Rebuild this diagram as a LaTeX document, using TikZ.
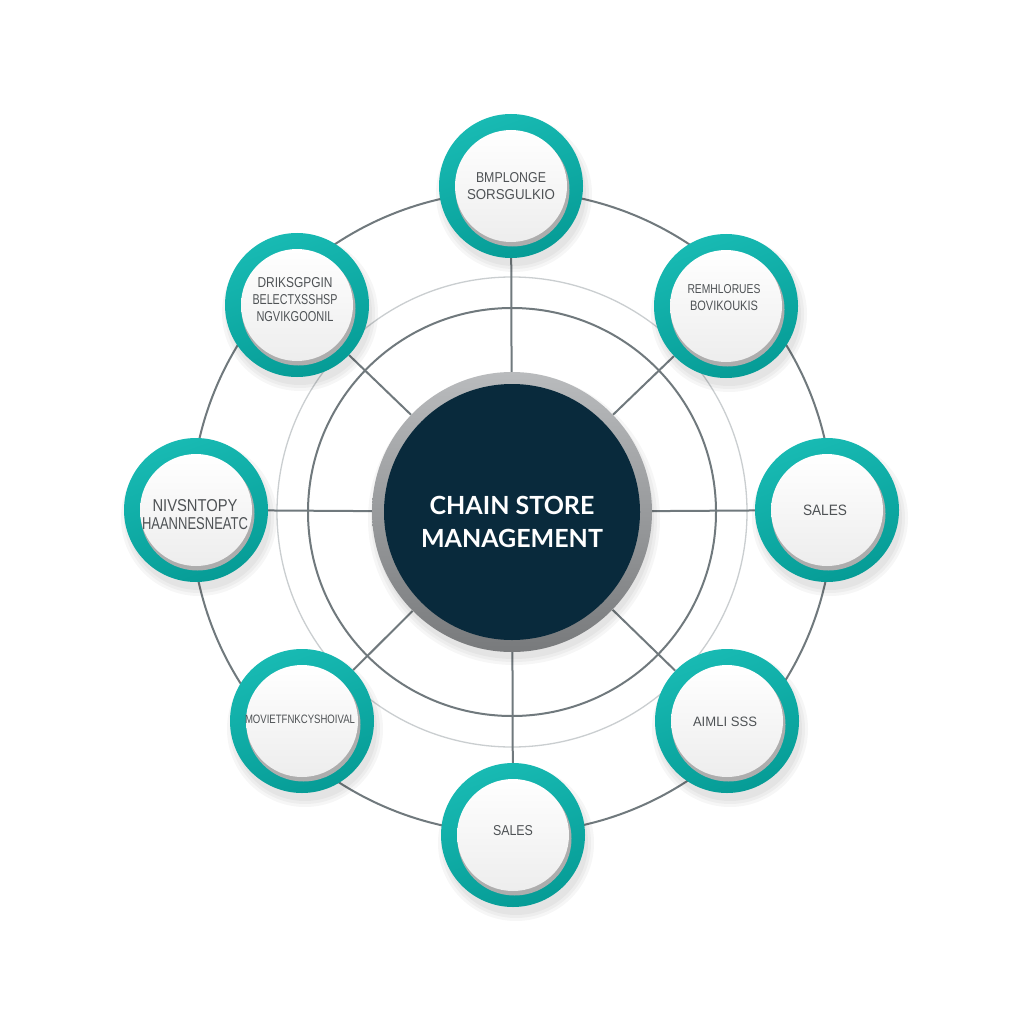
\documentclass[tikz,border=0pt]{standalone}
\usepackage{fontspec}
\setmainfont{Liberation Sans}
\newfontfamily\titlefont{Lato}
\usetikzlibrary{backgrounds}
\definecolor{navy}{RGB}{9,42,60}
\definecolor{tealA}{RGB}{24,186,179}
\definecolor{tealB}{RGB}{6,156,150}
\definecolor{linegrey}{RGB}{112,121,125}
\definecolor{lightring}{RGB}{202,206,208}
\definecolor{txtgrey}{RGB}{78,82,85}
\definecolor{ringA}{RGB}{185,187,189}
\definecolor{ringB}{RGB}{120,122,124}
\newcommand\fitline[3]{\resizebox{#1pt}{#2pt}{#3}}
\tikzset{
  satring/.style={circle, minimum size=144pt, inner sep=0pt, top color=tealA, bottom color=tealB, shading angle=20},
  satface/.style={circle, minimum size=112pt, inner sep=0pt, top color=white, bottom color=black!7},
  sattext/.style={align=center, text=txtgrey, inner sep=0pt, font=\fontsize{14}{17}\selectfont},
  rim/.style={fill=black!32},
  softshadow/.style={fill=black, opacity=0.035},
  spoke/.style={draw=linegrey, line width=2pt},
  hubring/.style={circle, minimum size=280pt, inner sep=0pt, top color=ringA, bottom color=ringB},
  hubface/.style={circle, minimum size=256pt, inner sep=0pt, fill=navy},
  hubtext/.style={align=center, text=white, inner sep=0pt, font=\titlefont\bfseries\fontsize{25}{33}\selectfont},
}
\begin{document}
\begin{tikzpicture}[x=1pt, y=-1pt]
\useasboundingbox (0,0) rectangle (1024,1024);
% positions
\coordinate (p0) at (512,512);
\coordinate (p1) at (511,186);
\coordinate (p2) at (726,306);
\coordinate (p3) at (827,510);
\coordinate (p4) at (727,721);
\coordinate (p5) at (513,835);
\coordinate (p6) at (302,721);
\coordinate (p7) at (196,510);
\coordinate (p8) at (297,305);
% soft shadows
\foreach \p in {p1,p2,p3,p4,p5,p6,p7,p8}{
  \foreach \r in {72,75,78}{\fill[softshadow] ([xshift=3pt,yshift=-8pt]\p) circle[radius=\r pt];}
}
\foreach \r in {140,143,146}{\fill[softshadow] ([xshift=2pt,yshift=-7pt]p0) circle[radius=\r pt];}
% hub
\node[hubring] (c) at (p0) {};
\node[hubface] (cf) at (p0) {};
\node[hubtext] (ct) at (512,522) {CHAIN STORE\\MANAGEMENT};
% satellites
\foreach \i in {1,...,8}{
  \node[satring] (s\i) at (p\i) {};
  \fill[rim] ([xshift=1.5pt,yshift=-3.5pt]p\i) circle[radius=57pt];
  \node[satface] (f\i) at (p\i) {};
}
\node[sattext] (t1) at (511,186) {\fitline{70}{10}{BMPLONGE}\\\fitline{88}{10}{SORSGULKIO}};
\node[sattext] (t2) at (724,298) {\fitline{73}{9}{REMHLORUES}\\\fitline{68}{9.5}{BOVIKOUKIS}};
\node[sattext] (t3) at (825,510) {\fitline{44}{10.5}{SALES}};
\node[sattext] (t4) at (725,722) {\fitline{64}{9.5}{AIMLI SSS}};
\node[sattext] (t5) at (513,831) {\fitline{40}{10}{SALES}};
\node[sattext] (t6) at (300,719) {\fitline{110}{8.5}{MOVIETFNKCYSHOIVAL}};
\node[sattext] (t7) at (195,515) {\fitline{85}{12}{NIVSNTOPY}\\[1pt]\fitline{106}{12}{HAANNESNEATC}};
\node[sattext] (t8) at (295,300) {\fitline{75}{10}{DRIKSGPGIN}\\\fitline{85}{10}{BELECTXSSHSP}\\\fitline{77}{10}{NGVIKGOONIL}};
% connectors and rings behind
\begin{pgfonlayer}{background}
  \fill[white] (0,0) rectangle (1024,1024);
  \draw[draw=linegrey, line width=2pt] (p0) circle[radius=321pt];
  \draw[draw=lightring, line width=1.3pt] (p0) circle[radius=235pt];
  \draw[draw=linegrey, line width=2pt] (p0) circle[radius=204pt];
  \foreach \i in {1,...,8}{\draw[spoke] (c) -- (s\i);}
\end{pgfonlayer}
\end{tikzpicture}
\end{document}
